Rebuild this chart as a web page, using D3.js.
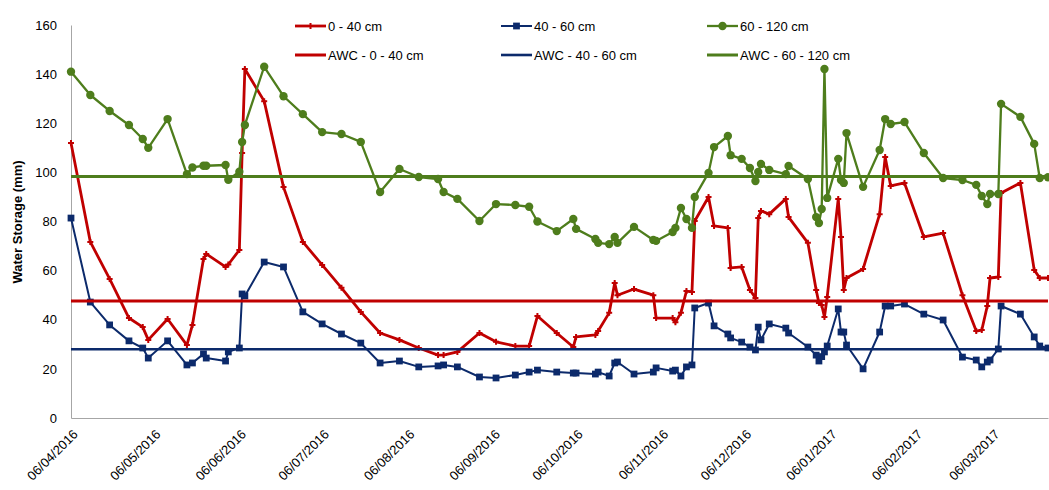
<!DOCTYPE html>
<html><head><meta charset="utf-8">
<script src="https://cdn.jsdelivr.net/npm/d3@7"></script>
<style>body{margin:0;background:#fff}svg{display:block;font-family:"Liberation Sans",Arial,sans-serif}</style>
</head><body><svg id="c" width="1049" height="490"></svg>
<script>
const dates = ["2016-04-06","2016-04-13","2016-04-20","2016-04-27","2016-05-02","2016-05-04","2016-05-11","2016-05-18","2016-05-20","2016-05-24","2016-05-25","2016-06-01","2016-06-02","2016-06-06","2016-06-07","2016-06-08","2016-06-15","2016-06-22","2016-06-29","2016-07-06","2016-07-13","2016-07-20","2016-07-27","2016-08-03","2016-08-10","2016-08-17","2016-08-19","2016-08-24","2016-09-01","2016-09-07","2016-09-14","2016-09-19","2016-09-22","2016-09-29","2016-10-05","2016-10-06","2016-10-13","2016-10-14","2016-10-18","2016-10-20","2016-10-21","2016-10-27","2016-11-03","2016-11-04","2016-11-10","2016-11-11","2016-11-13","2016-11-15","2016-11-17","2016-11-18","2016-11-23","2016-11-25","2016-11-30","2016-12-01","2016-12-05","2016-12-08","2016-12-10","2016-12-11","2016-12-12","2016-12-15","2016-12-21","2016-12-22","2016-12-29","2017-01-01","2017-01-02","2017-01-03","2017-01-04","2017-01-05","2017-01-09","2017-01-10","2017-01-11","2017-01-12","2017-01-18","2017-01-24","2017-01-26","2017-01-28","2017-02-02","2017-02-09","2017-02-16","2017-02-23","2017-02-28","2017-03-02","2017-03-04","2017-03-05","2017-03-08","2017-03-09","2017-03-16","2017-03-21","2017-03-23","2017-03-26"];

const s0_40 = [112,71.7,56.6,40.7,37,31.8,40.3,29.7,37.9,64.7,66.8,61.5,62.5,68.4,107.9,142.1,129,94,71.7,62.3,53,43.2,34.6,31.8,28.5,25.6,25.6,26.9,34.6,31,29.3,29.3,41.5,34.6,28.9,33,33.8,35.4,42.8,55,50,52.5,50,40.7,40.7,39,42.8,51.7,51.3,80.2,90,78.2,77.4,61.1,61.5,52.1,48.9,81.4,84.3,83,89.2,81.8,71.3,52.1,46.8,46,41.1,49.3,89.2,73.7,52.1,57,60.7,83,106.3,94.5,95.7,73.7,75.3,50,35.4,35.8,45.6,57,57.4,91.6,95.7,60.3,57,57];

const s40_60 = [81.4,47.2,37.9,31.4,28.5,24.4,31.4,21.6,22.4,26.1,24.4,23.2,26.9,28.5,50.5,49.7,63.5,61.5,43.2,38.3,34.2,30.5,22.4,23.2,20.8,21.2,21.6,20.8,16.7,16.3,17.5,18.7,19.5,18.7,18.3,18.3,17.9,18.7,17.1,22.4,22.8,17.9,18.7,20.4,19.1,19.5,17.1,20.8,21.6,44.8,46.8,37.5,34.2,32.6,30.9,28.9,27.7,37,31.8,38.3,36.6,34.6,28.9,25.6,23.2,25,26.9,29.3,44.4,35,35,29.7,20,35,45.6,45.6,46.4,42.3,39.9,24.8,23.6,20.8,22.8,23.6,28.1,45.6,42.3,33,29.3,28.5];

const s60_120 = [141,131.5,125,119.3,113.6,110,121.7,99.3,102,102.7,102.7,103,97,100.3,112.4,119.3,143,131,123.7,116.4,115.6,112.4,92,101.4,98.1,97.3,92,89.2,80.2,87.1,86.7,86,80,76.1,81,77,72.9,71.3,70.8,73.7,71.3,77.8,72.5,72.1,75.7,77.4,85.5,81,77.4,90,99.8,110.3,114.8,107,105.5,101.8,96.5,100.2,103.4,101,99.3,102.6,97.3,81.8,79.4,85.1,142.1,89.6,105.5,96.9,95.7,116,94.1,109.1,121.7,119.7,120.5,107.9,97.7,96.9,94.9,90.4,87.1,91.2,91.2,127.9,122.6,111.6,97.7,98];

const awcValues = [47.6, 28, 98.3];
const seriesNames = ["0 - 40 cm","40 - 60 cm","60 - 120 cm"];
const awcNames = ["AWC - 0 - 40 cm","AWC - 40 - 60 cm","AWC - 60 - 120 cm"];
const yTicks = [0,20,40,60,80,100,120,140,160];
const xTickLabels = ["06/04/2016","06/05/2016","06/06/2016","06/07/2016","06/08/2016","06/09/2016","06/10/2016","06/11/2016","06/12/2016","06/01/2017","06/02/2017","06/03/2017"];
const xDomain = ["2016-04-06","2017-03-26"];

const colors = ["#c00000","#0c2a6b","#4e7d1c"];
const parse = d3.timeParse("%Y-%m-%d");
const parseLab = d3.timeParse("%d/%m/%Y");
const svg = d3.select("#c");
const L = 71, R = 1048, T = 25, B = 418;
const x = d3.scaleTime().domain(xDomain.map(parse)).range([L, R]);
const y = d3.scaleLinear().domain([0,160]).range([B, T]);

// axes
const yAx = svg.append("g").attr("transform",`translate(${L},0)`)
  .call(d3.axisLeft(y).tickValues(yTicks).tickSize(0).tickPadding(14));
yAx.select(".domain").attr("stroke","#a6a6a6").attr("stroke-width",1);
yAx.selectAll("text").attr("font-size","13px").attr("fill","#000").attr("font-family","Liberation Sans, Arial");

const xAx = svg.append("g").attr("transform",`translate(0,${B})`)
  .call(d3.axisBottom(x).tickValues(xTickLabels.map(parseLab)).tickSize(0).tickFormat(d3.timeFormat("%d/%m/%Y")));
xAx.select(".domain").attr("stroke","#a6a6a6").attr("stroke-width",1.2);
xAx.selectAll("text").attr("font-size","13px").attr("fill","#000").attr("font-family","Liberation Sans, Arial")
  .attr("text-anchor","end").attr("dy",null).attr("dx",null)
  .attr("transform","translate(5,15) rotate(-45)");

svg.append("text").attr("transform","translate(22,222) rotate(-90)")
  .attr("text-anchor","middle").attr("font-size","13px").attr("font-weight","bold").text("Water Storage (mm)");

const allSeries = [s0_40, s40_60, s60_120];
const widths = [2.8, 2, 2.3];
const line = d3.line().x(d=>x(d[0])).y(d=>y(d[1]));
const dd = dates.map(parse);
const sym = [d3.symbol().type(d3.symbolCross).size(20), d3.symbol().type(d3.symbolSquare).size(46), d3.symbol().type(d3.symbolCircle).size(55)];

allSeries.forEach((vals,i)=>{
  const pts = dd.map((d,j)=>[d, vals[j]]);
  svg.append("path").datum(pts).attr("d",line).attr("fill","none")
    .attr("stroke",colors[i]).attr("stroke-width",widths[i]).attr("stroke-linejoin","round");
  svg.append("g").selectAll("path").data(pts).join("path")
    .attr("transform",d=>`translate(${x(d[0])},${y(d[1])})`)
    .attr("d",sym[i]()).attr("fill",colors[i]);
});

const awcW = [3, 2.6, 3];
awcValues.forEach((v,i)=>{
  svg.append("line").attr("x1",L).attr("x2",R).attr("y1",y(v)).attr("y2",y(v))
    .attr("stroke",colors[i]).attr("stroke-width",awcW[i]);
});

// legend
const legX = [295, 501, 707];
const legY = [26, 55];
seriesNames.forEach((n,i)=>{
  const g = svg.append("g");
  g.append("line").attr("x1",legX[i]).attr("x2",legX[i]+31).attr("y1",legY[0]).attr("y2",legY[0])
    .attr("stroke",colors[i]).attr("stroke-width",widths[i]);
  g.append("path").attr("transform",`translate(${legX[i]+15.5},${legY[0]})`).attr("d",sym[i]()).attr("fill",colors[i]);
  g.append("text").attr("x",legX[i]+33).attr("y",legY[0]).attr("dy","0.35em").attr("font-size","13px").text(n);
});
awcNames.forEach((n,i)=>{
  const g = svg.append("g");
  g.append("line").attr("x1",legX[i]).attr("x2",legX[i]+31).attr("y1",legY[1]).attr("y2",legY[1])
    .attr("stroke",colors[i]).attr("stroke-width",awcW[i]);
  g.append("text").attr("x",legX[i]+33).attr("y",legY[1]).attr("dy","0.35em").attr("font-size","13px").text(n);
});
</script></body></html>
